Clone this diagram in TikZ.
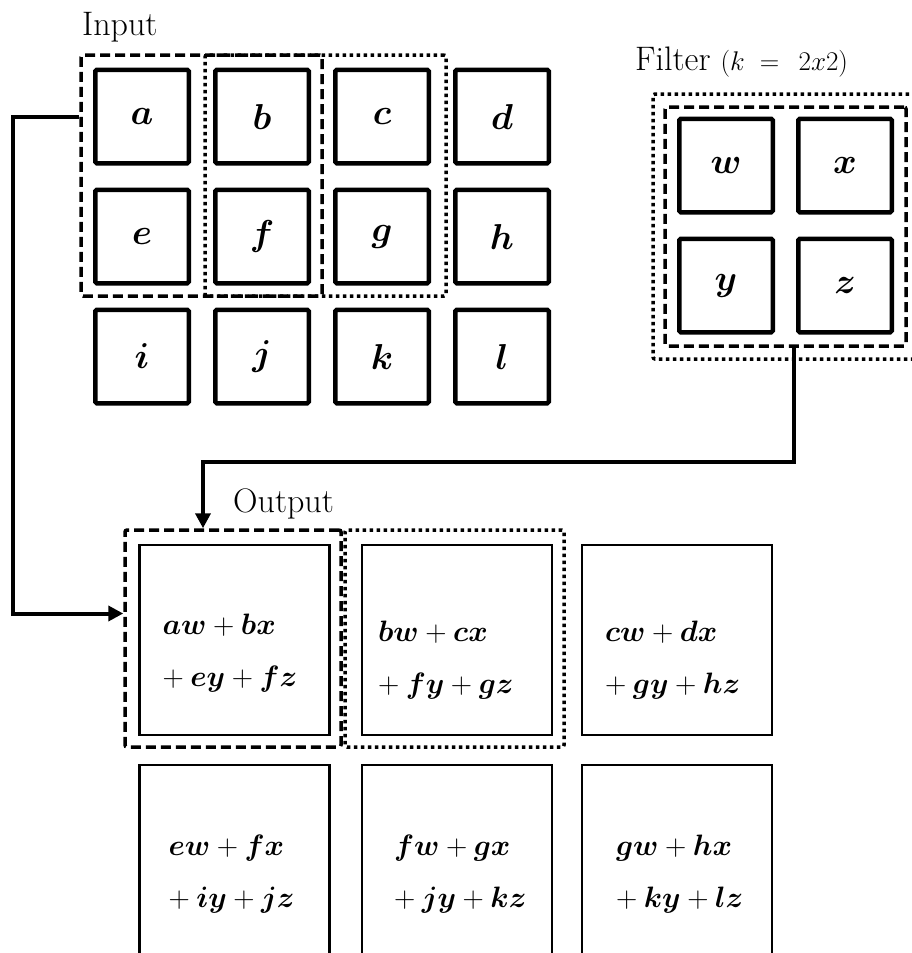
\RequirePackage{fix-cm}
\documentclass[tikz,border=0pt]{standalone}
\usepackage{amsmath,amssymb}
\usepackage{bm}
\usepackage{tikz}
\usetikzlibrary{arrows.meta,positioning,calc}

\tikzset{
  lbl/.style={inner sep=0pt,anchor=base west,font=\fontsize{34}{38}\selectfont},
  incell/.style={draw,line width=4.5pt,minimum size=93.5pt,inner sep=0pt,rounded corners=1.5pt,
    font=\fontsize{36}{40}\selectfont\boldmath},
  outcell/.style={draw,line width=2.2pt,minimum size=190pt,inner sep=0pt},
  outtxt/.style={inner sep=0pt,anchor=west,align=left,font=\fontsize{29.5}{52}\selectfont},
  dashwin/.style={draw,line width=3.5pt,dash pattern=on 10pt off 5pt,inner sep=0pt,rounded corners=2pt},
  dotwin/.style={draw,line width=3.5pt,dash pattern=on 3.5pt off 3.5pt,inner sep=0pt,rounded corners=2pt},
  conn/.style={line width=4pt,-{Triangle[length=15pt,width=15pt]}}
}
\newcommand\sumtxt[4]{$\bm{#1}+\bm{#2}$\\$+\>\bm{#3}+\bm{#4}$}

\begin{document}
\begin{tikzpicture}[x=1pt,y=-1pt]
      \clip (0,0) rectangle (912,953);
      % labels
      \node[lbl] (inlbl) at (82,35) {Input};
      \node[lbl] (filtlbl) at (635,70) {Filter\hspace{10pt}{\fontsize{27}{30}\selectfont$(k\;=\;\,2x2)$}};
      \node[lbl] (outlbl) at (233,512) {Output};
      % input cells
      \foreach \nm/\c/\r in {a/0/0,b/1/0,c/2/0,d/3/0,e/0/1,f/1/1,g/2/1,h/3/1,i/0/2,j/1/2,k/2/2,l/3/2}
        \node[incell] (in\nm) at (142+120*\c,116.5+120*\r) {$\nm$};
      % filter cells
      \foreach \nm/\c/\r in {w/0/0,x/1/0,y/0/1,z/1/1}
        \node[incell] (f\nm) at (726+119*\c,165.5+120*\r) {$\nm$};
      % output cells
      \foreach \n/\x/\y in {1/234.5/640,2/457/640,3/677/640,4/234.5/860,5/457/860,6/677/860}
        \node[outcell] (o\n) at (\x,\y) {};
      \node[outtxt] (t1) at ($(o1.west)+(24,13)$) {\sumtxt{aw}{bx}{ey}{fz}};
      \node[outtxt] (t2) at ($(o2.west)+(17,20)$) {\sumtxt{bw}{cx}{fy}{gz}};
      \node[outtxt] (t3) at ($(o3.west)+(24,20)$) {\sumtxt{cw}{dx}{gy}{hz}};
      \node[outtxt] (t4) at ($(o4.west)+(30,14)$) {\sumtxt{ew}{fx}{iy}{jz}};
      \node[outtxt] (t5) at ($(o5.west)+(33,14)$) {\sumtxt{fw}{gx}{jy}{kz}};
      \node[outtxt] (t6) at ($(o6.west)+(35,14)$) {\sumtxt{gw}{hx}{ky}{lz}};
      % sliding windows
      \node[dashwin,minimum width=241pt,minimum height=241pt] (inwinA) at (201.5,175.5) {};
      \node[dotwin,minimum width=241pt,minimum height=241pt] (inwinB) at (325.5,175.5) {};
      \node[dotwin,minimum width=265pt,minimum height=265pt] (fdot) at (785.5,226.5) {};
      \node[dashwin,minimum width=241pt,minimum height=239pt] (fdash) at (785.5,226.5) {};
      \node[dashwin,minimum width=216pt,minimum height=217pt] (outA) at (233,638.5) {};
      \node[dotwin,minimum width=219pt,minimum height=217pt] (outB) at (454.5,638.5) {};
      % connectors
      \draw[conn] (inwinA.west |- ina) -- ++(-66,0) |- ($(outA.west)+(0,-25)$);
      \draw[conn] ($(fdash.south)+(8,0)$) -- ++(0,114) -| ($(outA.north)+(-30,0)$);
\end{tikzpicture}
\end{document}
